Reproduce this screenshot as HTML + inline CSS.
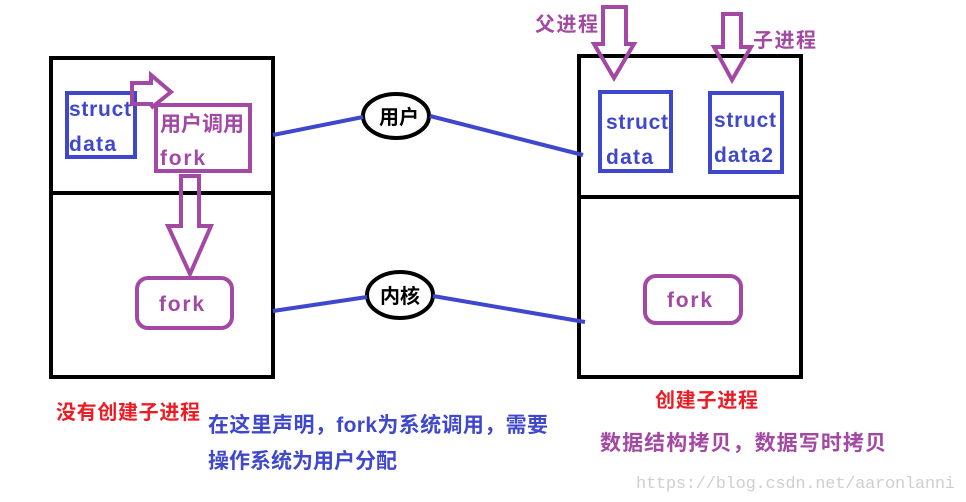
<!DOCTYPE html>
<html><head><meta charset="utf-8"><style>
html,body{margin:0;padding:0;background:#fff;width:966px;height:502px;overflow:hidden}
svg text{font-family:"Liberation Sans","Noto Sans CJK SC",sans-serif;font-weight:bold}
</style></head><body>
<svg width="966" height="502" viewBox="0 0 966 502" xmlns="http://www.w3.org/2000/svg">
<g fill="none" stroke="#000" stroke-width="4">
<rect x="51" y="58" width="222" height="319"/>
<line x1="49" y1="193" x2="275" y2="193"/>
<rect x="579" y="56" width="222" height="321"/>
<line x1="577" y1="197" x2="803" y2="197"/>
<ellipse cx="396" cy="116" rx="33" ry="22"/>
<ellipse cx="400" cy="295" rx="33" ry="23"/>
</g>
<g fill="none" stroke="#3f48cc" stroke-width="4">
<rect x="67" y="93" width="68" height="64"/>
<rect x="600" y="92" width="71" height="79"/>
<rect x="710" y="93" width="72" height="79"/>
<line x1="273" y1="135" x2="363" y2="117"/>
<line x1="430" y1="116" x2="583" y2="155"/>
<line x1="273" y1="311" x2="367" y2="297"/>
<line x1="433" y1="296" x2="585" y2="322"/>
</g>
<g fill="none" stroke="#a349a4" stroke-width="4">
<rect x="156" y="105" width="94" height="66"/>
<polyline points="153,104 132,104 132,83 151,83 151,75 171,92 151,108"/>
<polygon points="181,176 199,176 199,226 211,226 190,274 168,226 181,226"/>
<rect x="137" y="278" width="95" height="50" rx="11"/>
<rect x="645" y="276" width="96" height="47" rx="11"/>
<polygon points="603,7 626,7 626,44 634,44 614,78 594,44 603,44"/>
<polygon points="723,14 741,14 741,47 751,47 732,80 714,47 723,47"/>
</g>
<g fill="#3f48cc" font-size="21">
<text x="69" y="116" textLength="62">struct</text><text x="69" y="151" textLength="47">data</text>
<text x="606" y="129" textLength="62">struct</text><text x="606" y="164" textLength="47">data</text>
<text x="714" y="127" textLength="62">struct</text><text x="714" y="162" textLength="59">data2</text>
</g>
<g fill="#a349a4" font-size="21">
<text x="160" y="131" textLength="84">用户调用</text><text x="160" y="165" textLength="45">fork</text>
<text x="159" y="311" textLength="45">fork</text><text x="667" y="307" textLength="45">fork</text>
<text x="535" y="31" font-size="20" textLength="63">父进程</text>
<text x="753" y="47" font-size="20" textLength="63">子进程</text>
<text x="600" y="450" font-size="21" textLength="286">数据结构拷贝，数据写时拷贝</text>
</g>
<g fill="#000" font-size="20">
<text x="379" y="124" textLength="40">用户</text><text x="380" y="303" textLength="40">内核</text>
</g>
<g fill="#ed1c24" font-size="20">
<text x="56" y="419" textLength="144">没有创建子进程</text>
<text x="655" y="407" textLength="103">创建子进程</text>
</g>
<g fill="#3f48cc" font-size="21">
<text x="208" y="432" textLength="340">在这里声明，fork为系统调用，需要</text>
<text x="208" y="468" textLength="189">操作系统为用户分配</text>
</g>
<text x="636" y="488" fill="#cfcfcf" font-size="17" textLength="319" style="font-family:'Liberation Mono',monospace;font-weight:normal">https://blog.csdn.net/aaronlanni</text>
</svg>
</body></html>
